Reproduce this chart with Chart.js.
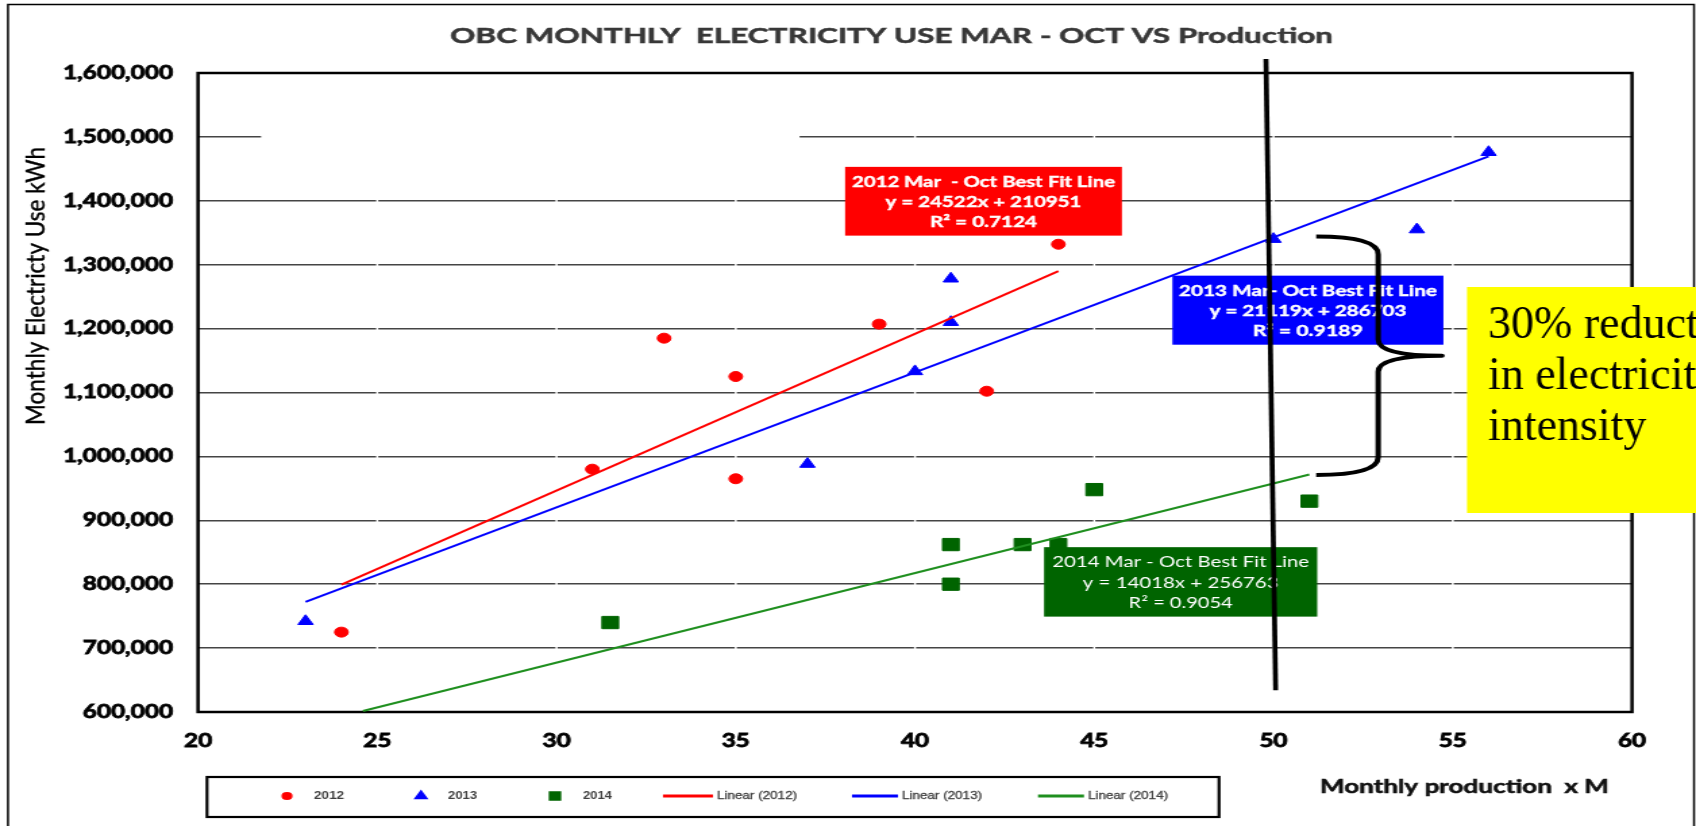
<!DOCTYPE html>
<html><head><meta charset="utf-8">
<script src="https://cdn.jsdelivr.net/npm/chart.js@4"></script>
<style>
html,body{margin:0;padding:0;background:#fff;overflow:hidden;width:1696px;height:826px}
#wrap{position:absolute;left:0;top:0;width:1256px;height:826px;transform-origin:0 0}
</style></head><body>
<div id="wrap"><canvas id="c"></canvas></div>
<script>
// ---- data ----
const x2012 = [24, 31, 33, 35, 35, 39, 42, 44];
const y2012 = [725000, 980000, 1185000, 1125000, 965000, 1207000, 1102000, 1332000];
const x2013 = [23, 37, 40, 41, 41, 50, 54, 56];
const y2013 = [742000, 988000, 1133000, 1210000, 1278000, 1340000, 1355000, 1476000];
const x2014 = [31.5, 41, 41, 43, 44, 45, 51];
const y2014 = [740000, 862000, 800000, 862000, 862000, 948000, 930000];
const trend2012X = [24, 44], trend2012Y = [799480, 1289920];
const trend2013X = [23, 56], trend2013Y = [772440, 1469370];
const trend2014X = [24.6, 51], trend2014Y = [601600, 971680];
const dividerX = [49.79, 50.06], dividerY = [1622000, 634000];
const xTicks = [20, 25, 30, 35, 40, 45, 50, 55, 60];
const yTicks = [600000, 700000, 800000, 900000, 1000000, 1100000, 1200000, 1300000, 1400000, 1500000, 1600000];
const seriesLabels = ['2012', '2013', '2014', 'Linear (2012)', 'Linear (2013)', 'Linear (2014)'];
const fitTexts = [
  ['2012 Mar  - Oct Best Fit Line', 'y = 24522x + 210951', 'R\u00B2 = 0.7124'],
  ['2013 Mar- Oct Best Fit Line', 'y = 21119x + 286703', 'R\u00B2 = 0.9189'],
  ['2014 Mar - Oct Best Fit Line', 'y = 14018x + 256763', 'R\u00B2 = 0.9054']
];
const titleText = 'OBC MONTHLY  ELECTRICITY USE MAR - OCT VS Production';
const xTitle = 'Monthly production  x M';
const yTitle = 'Monthly Electricty Use kWh';
const noteLines = ['30% reduction', 'in electricity', 'intensity'];

// ---- layout (reference pixels) ----
const W = 1696, BASEW = 1256, S = W / BASEW;
document.getElementById('wrap').style.transform = 'scaleX(' + S + ')';
const u = X => X / S;
// label boxes in data coordinates [x0, x1, yTop, yBottom]
const boxRects = [[38.05, 45.77, 1453100, 1345500], [47.18, 54.74, 1282850, 1174800], [43.60, 51.22, 857950, 749260]];
const boxColors = ['#ff0000', '#0000ff', '#006400'];
const boxFonts = ['bold 15px Lato', 'bold 15px Lato', '15px Lato'];
const boxWidths = [[263, 196, 107], [258, 197, 110], [257, 196, 104]];
const boxOffsets = [15, 35.5, 55.5];
const gridGap = {y: 1500000, x0: 21.76, x1: 36.78};
const braceX = [51.19, 52.92, 54.70];
const braceY = [1344000, 1316000, 1183000, 1157500, 1132500, 999000, 971000];

function fitText(ctx, text, x, y, w, align, stroke) {
  const m = ctx.measureText(text).width;
  ctx.save();
  ctx.translate(x, y);
  ctx.scale(w / m, 1);
  ctx.textAlign = align || 'left';
  ctx.fillText(text, 0, 0);
  if (stroke) { ctx.strokeStyle = ctx.fillStyle; ctx.lineWidth = stroke; ctx.strokeText(text, 0, 0); }
  ctx.restore();
}

const annot = {
  id: 'annot',
  beforeDatasetsDraw(chart) {
    const {ctx, chartArea: a, scales: {x, y}} = chart;
    ctx.save();
    ctx.strokeStyle = '#fff';
    ctx.lineWidth = 1.5;
    xTicks.slice(1, -1).forEach(v => {
      const p = x.getPixelForValue(v);
      ctx.beginPath(); ctx.moveTo(p, a.top); ctx.lineTo(p, a.bottom); ctx.stroke();
    });
    ctx.lineWidth = 3;
    const gy = y.getPixelForValue(gridGap.y);
    ctx.beginPath(); ctx.moveTo(x.getPixelForValue(gridGap.x0), gy); ctx.lineTo(x.getPixelForValue(gridGap.x1), gy); ctx.stroke();
    ctx.strokeStyle = '#000';
    ctx.lineWidth = 2.5;
    ctx.strokeRect(a.left, a.top, a.right - a.left, a.bottom - a.top);
    ctx.restore();
  },
  beforeDatasetDraw(chart, args) {
    if (chart.data.datasets[args.index].role !== 'divider') return;
    const {ctx, scales: {x, y}} = chart;
    ctx.save();
    boxRects.forEach((r, i) => {
      const l = x.getPixelForValue(r[0]), rr = x.getPixelForValue(r[1]);
      const t = y.getPixelForValue(r[2]), b = y.getPixelForValue(r[3]);
      ctx.fillStyle = boxColors[i];
      ctx.fillRect(l, t, rr - l, b - t);
      ctx.fillStyle = '#fff';
      ctx.font = boxFonts[i];
      ctx.textBaseline = 'middle';
      fitTexts[i].forEach((s, k) => fitText(ctx, s, (l + rr) / 2, t + boxOffsets[k], u(boxWidths[i][k]), 'center', i < 2 ? 0.4 : 0));
    });
    ctx.restore();
  },
  afterDatasetsDraw(chart) {
    const {ctx, scales: {x, y}} = chart;
    const X = braceX.map(v => x.getPixelForValue(v));
    const Y = braceY.map(v => y.getPixelForValue(v));
    ctx.save();
    ctx.strokeStyle = '#000';
    ctx.lineWidth = 4;
    ctx.lineJoin = 'round';
    ctx.beginPath();
    ctx.moveTo(X[0], Y[0]);
    ctx.quadraticCurveTo(X[1], Y[0], X[1], Y[1]);
    ctx.lineTo(X[1], Y[2]);
    ctx.quadraticCurveTo(X[1], Y[3], X[2], Y[3]);
    ctx.quadraticCurveTo(X[1], Y[3], X[1], Y[4]);
    ctx.lineTo(X[1], Y[5]);
    ctx.quadraticCurveTo(X[1], Y[6], X[0], Y[6]);
    ctx.stroke();
    ctx.restore();
  },
  afterDraw(chart) {
    const ctx = chart.ctx;
    ctx.save();
    // title
    ctx.fillStyle = '#383838';
    ctx.font = 'bold 21px Lato';
    ctx.textBaseline = 'middle';
    fitText(ctx, titleText, u(450), 36, u(883), 'left', 0.5);
    // x title
    ctx.fillStyle = '#111';
    ctx.font = 'bold 18px Lato';
    fitText(ctx, xTitle, u(1320), 787, u(289), 'left', 0.5);
    // y title
    ctx.fillStyle = '#000';
    ctx.font = '20px Lato';
    ctx.save();
    ctx.translate(u(36), 286);
    ctx.rotate(-Math.PI / 2);
    const m = ctx.measureText(yTitle).width;
    ctx.scale(278 / m, 1);
    ctx.textAlign = 'center';
    ctx.fillText(yTitle, 0, 0);
    ctx.strokeStyle = '#000'; ctx.lineWidth = 0.35; ctx.strokeText(yTitle, 0, 0);
    ctx.restore();
    // legend
    ctx.strokeStyle = '#000';
    ctx.lineWidth = 2.2;
    ctx.strokeRect(u(207), 777, u(1219) - u(207), 40);
    const ds = chart.data.datasets;
    const scat = ds.filter(d => d.role === 'series');
    const lines = ds.filter(d => d.role === 'trend');
    const mx = [287, 421, 555], tx = [314, 448, 583], tw = [30, 29, 29];
    const mr = [3, 4.2, 5];
    ctx.font = 'bold 10px "Liberation Sans"';
    ctx.textBaseline = 'middle';
    scat.forEach((d, i) => {
      ctx.fillStyle = d.backgroundColor; ctx.strokeStyle = d.borderColor;
      Chart.helpers.drawPoint(ctx, {pointStyle: d.pointStyle, radius: mr[i], rotation: 0, borderWidth: 1}, u(mx[i]), 796);
      ctx.fillStyle = '#404040';
      fitText(ctx, d.label, u(tx[i]), 796, u(tw[i]));
    });
    const lx = [[663, 713], [852, 898], [1038, 1084]], ltx = [717, 902, 1088];
    ctx.font = '10px "Liberation Sans"';
    lines.forEach((d, i) => {
      ctx.strokeStyle = d.borderColor; ctx.lineWidth = 3;
      ctx.beginPath(); ctx.moveTo(u(lx[i][0]), 796); ctx.lineTo(u(lx[i][1]), 796); ctx.stroke();
      ctx.fillStyle = '#404040';
      fitText(ctx, d.label, u(ltx[i]), 796, u(80), 'left', 0.3);
    });
    // outer frame
    ctx.strokeStyle = '#000';
    ctx.lineWidth = 1.5;
    ctx.strokeRect(u(8), 4.5, u(1694) - u(8), 830);
    // yellow note (drawn unstretched)
    ctx.scale(1 / S, 1);
    ctx.fillStyle = '#ffff00';
    ctx.fillRect(1467, 287, 240, 226);
    ctx.fillStyle = '#000';
    ctx.font = '46px "Liberation Serif"';
    ctx.textBaseline = 'alphabetic';
    ctx.textAlign = 'left';
    [338, 389, 440].forEach((b, i) => ctx.fillText(noteLines[i], 1488, b));
    ctx.restore();
  }
};

const pts = (xs, ys) => xs.map((v, i) => ({x: v, y: ys[i]}));

new Chart(document.getElementById('c'), {
  type: 'scatter',
  data: {
    datasets: [
      {role: 'divider', label: 'divider', data: pts(dividerX, dividerY), showLine: true, pointRadius: 0, borderColor: '#000', borderWidth: 3.7, clip: false, order: 0},
      {role: 'series', label: seriesLabels[0], data: pts(x2012, y2012), pointStyle: 'circle', pointRadius: 5, backgroundColor: '#ff0000', borderColor: '#ff0000', order: 2},
      {role: 'series', label: seriesLabels[1], data: pts(x2013, y2013), pointStyle: 'triangle', pointRadius: 6.5, backgroundColor: '#0000ff', borderColor: '#0000ff', order: 2},
      {role: 'series', label: seriesLabels[2], data: pts(x2014, y2014), pointStyle: 'rect', pointRadius: 8.7, backgroundColor: '#006400', borderColor: '#006400', order: 2},
      {role: 'trend', label: seriesLabels[3], data: pts(trend2012X, trend2012Y), showLine: true, pointRadius: 0, borderColor: '#ff0000', borderWidth: 2, order: 1},
      {role: 'trend', label: seriesLabels[4], data: pts(trend2013X, trend2013Y), showLine: true, pointRadius: 0, borderColor: '#0000ff', borderWidth: 2, order: 1},
      {role: 'trend', label: seriesLabels[5], data: pts(trend2014X, trend2014Y), showLine: true, pointRadius: 0, borderColor: '#1f8f1f', borderWidth: 2, order: 1}
    ]
  },
  options: {
    responsive: true,
    maintainAspectRatio: false,
    devicePixelRatio: 1,
    animation: false,
    layout: {padding: {left: 0, right: BASEW - u(1632), top: 73, bottom: 0}},
    plugins: {legend: {display: false}, tooltip: {enabled: false}, title: {display: false}},
    scales: {
      x: {
        type: 'linear', min: 20, max: 60,
        afterBuildTicks: s => { s.ticks = xTicks.map(v => ({value: v})); },
        afterFit: s => { s.height = 826 - 712; },
        grid: {display: false, drawTicks: false},
        border: {display: false},
        ticks: {padding: 18, color: '#000', textStrokeColor: '#000', textStrokeWidth: 0.8,
          font: {family: 'Lato', weight: 'bold', size: 18}}
      },
      y: {
        type: 'linear', min: 600000, max: 1600000,
        afterBuildTicks: s => { s.ticks = yTicks.map(v => ({value: v})); },
        afterFit: s => { s.width = u(198); },
        grid: {color: '#444', lineWidth: 1.5, drawTicks: false},
        border: {display: false},
        ticks: {padding: 18.5, color: '#000', textStrokeColor: '#000', textStrokeWidth: 0.8,
          font: {family: 'Lato', weight: 'bold', size: 18},
          callback: v => Number(v).toLocaleString('en-US')}
      }
    }
  },
  plugins: [annot]
});
</script>
</body></html>
